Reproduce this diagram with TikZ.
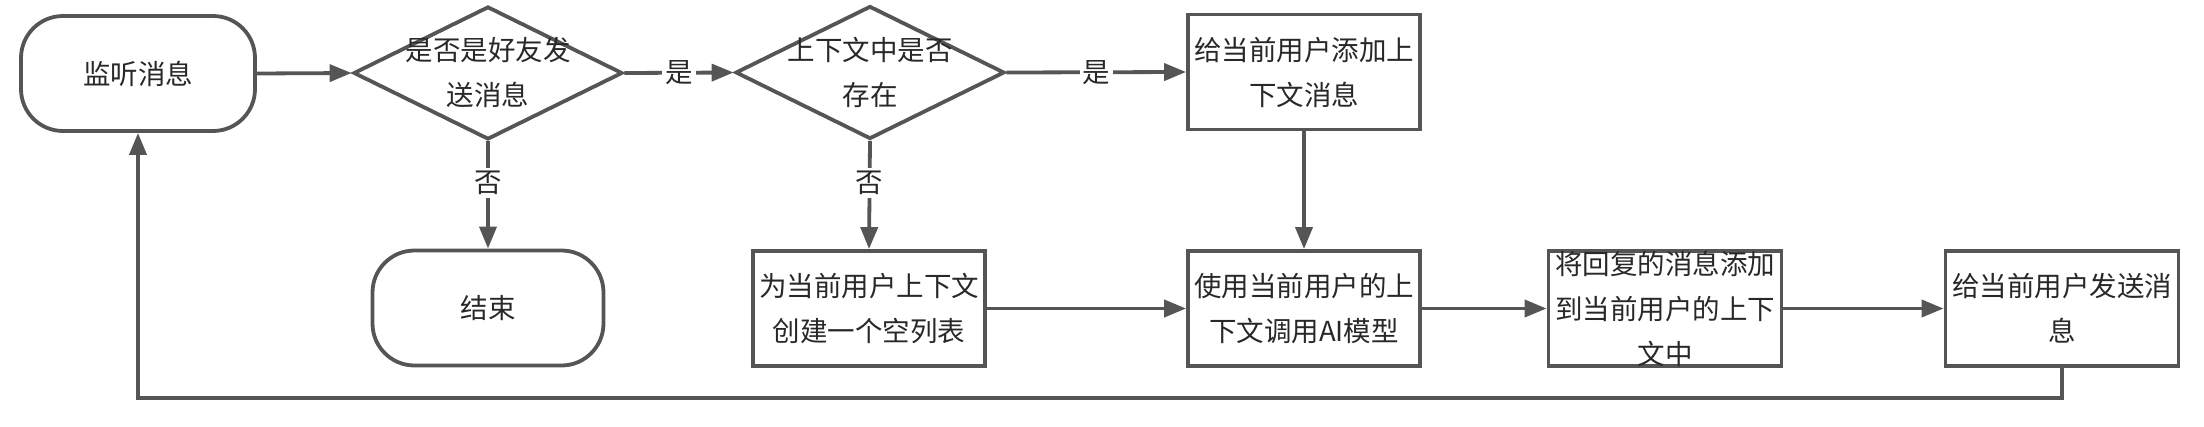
\documentclass[tikz,border=0pt]{standalone}
\usepackage{fontspec}
\setmainfont{Noto Sans CJK SC}
\usetikzlibrary{shapes.geometric,arrows.meta}
\definecolor{stroke}{RGB}{85,85,85}
\definecolor{ink}{RGB}{40,40,40}
\begin{document}
\begin{tikzpicture}[x=1pt,y=-1pt,
  shapeline/.style={draw=stroke,line width=3.8pt},
  term/.style={shapeline,rectangle,rounded corners=42pt,minimum width=234pt,minimum height=115pt,inner sep=0pt},
  decide/.style={shapeline,diamond,minimum width=269pt,minimum height=133pt,inner sep=0pt},
  proc/.style={shapeline,rectangle,minimum width=232pt,minimum height=115pt,inner sep=0pt},
  txt/.style={text=ink,font=\fontsize{27.5pt}{45pt}\selectfont,align=center,inner sep=0pt},
  lbl/.style={text=ink,font=\fontsize{27.5pt}{30pt}\selectfont,fill=white,inner sep=3pt},
  arr/.style={draw=stroke,line width=3.8pt,-{Triangle[length=22pt,width=17pt]}}
]
\useasboundingbox (0,0) rectangle (2204,426);
% shapes
\node[term] (listen) at (138,73.5) {};
\node[decide] (d1) at (488,73) {};
\node[decide] (d2) at (870,72.5) {};
\node[proc] (ba) at (1304,72) {};
\node[term, minimum width=231pt] (fin) at (488,308) {};
\node[proc] (bb) at (869,308.5) {};
\node[proc] (bc) at (1304,308.5) {};
\node[proc, minimum width=233pt] (bd) at (1665,308.5) {};
\node[proc, minimum width=233pt] (be) at (2062,308.5) {};
% texts
\node[txt] (listen-t) at (listen.center) {监听消息};
\node[txt] (d1-t) at (d1.center) {是否是好友发\\送消息};
\node[txt] (d2-t) at (d2.center) {上下文中是否\\存在};
\node[txt] (ba-t) at (ba.center) {给当前用户添加上\\下文消息};
\node[txt] (fin-t) at (fin.center) {结束};
\node[txt] (bb-t) at (bb.center) {为当前用户上下文\\创建一个空列表};
\node[txt] (bc-t) at (bc.center) {使用当前用户的上\\下文调用AI模型};
\node[txt] (bd-t) at (bd.center) {将回复的消息添加\\到当前用户的上下\\文中};
\node[txt] (be-t) at (be.center) {给当前用户发送消\\息};
% connectors
\draw[arr] (listen.east) -- (d1.west);
\draw[arr] (d1.east) -- node[lbl] (y1) {是} (d2.west);
\draw[arr] (d2.east) -- node[lbl] (y2) {是} (ba.west);
\draw[arr] (d1.south) -- node[lbl,pos=0.39] (n1) {否} (fin.north);
\draw[arr] (d2.south) -- node[lbl,pos=0.39] (n2) {否} (bb.north);
\draw[arr] (ba.south) -- (bc.north);
\draw[arr] (bb.east) -- (bc.west);
\draw[arr] (bc.east) -- (bd.west);
\draw[arr] (bd.east) -- (be.west);
\coordinate (loopy) at (0,398);
\draw[arr] (be.south) -- (be.south |- loopy) -| (listen.south);
\end{tikzpicture}
\end{document}
